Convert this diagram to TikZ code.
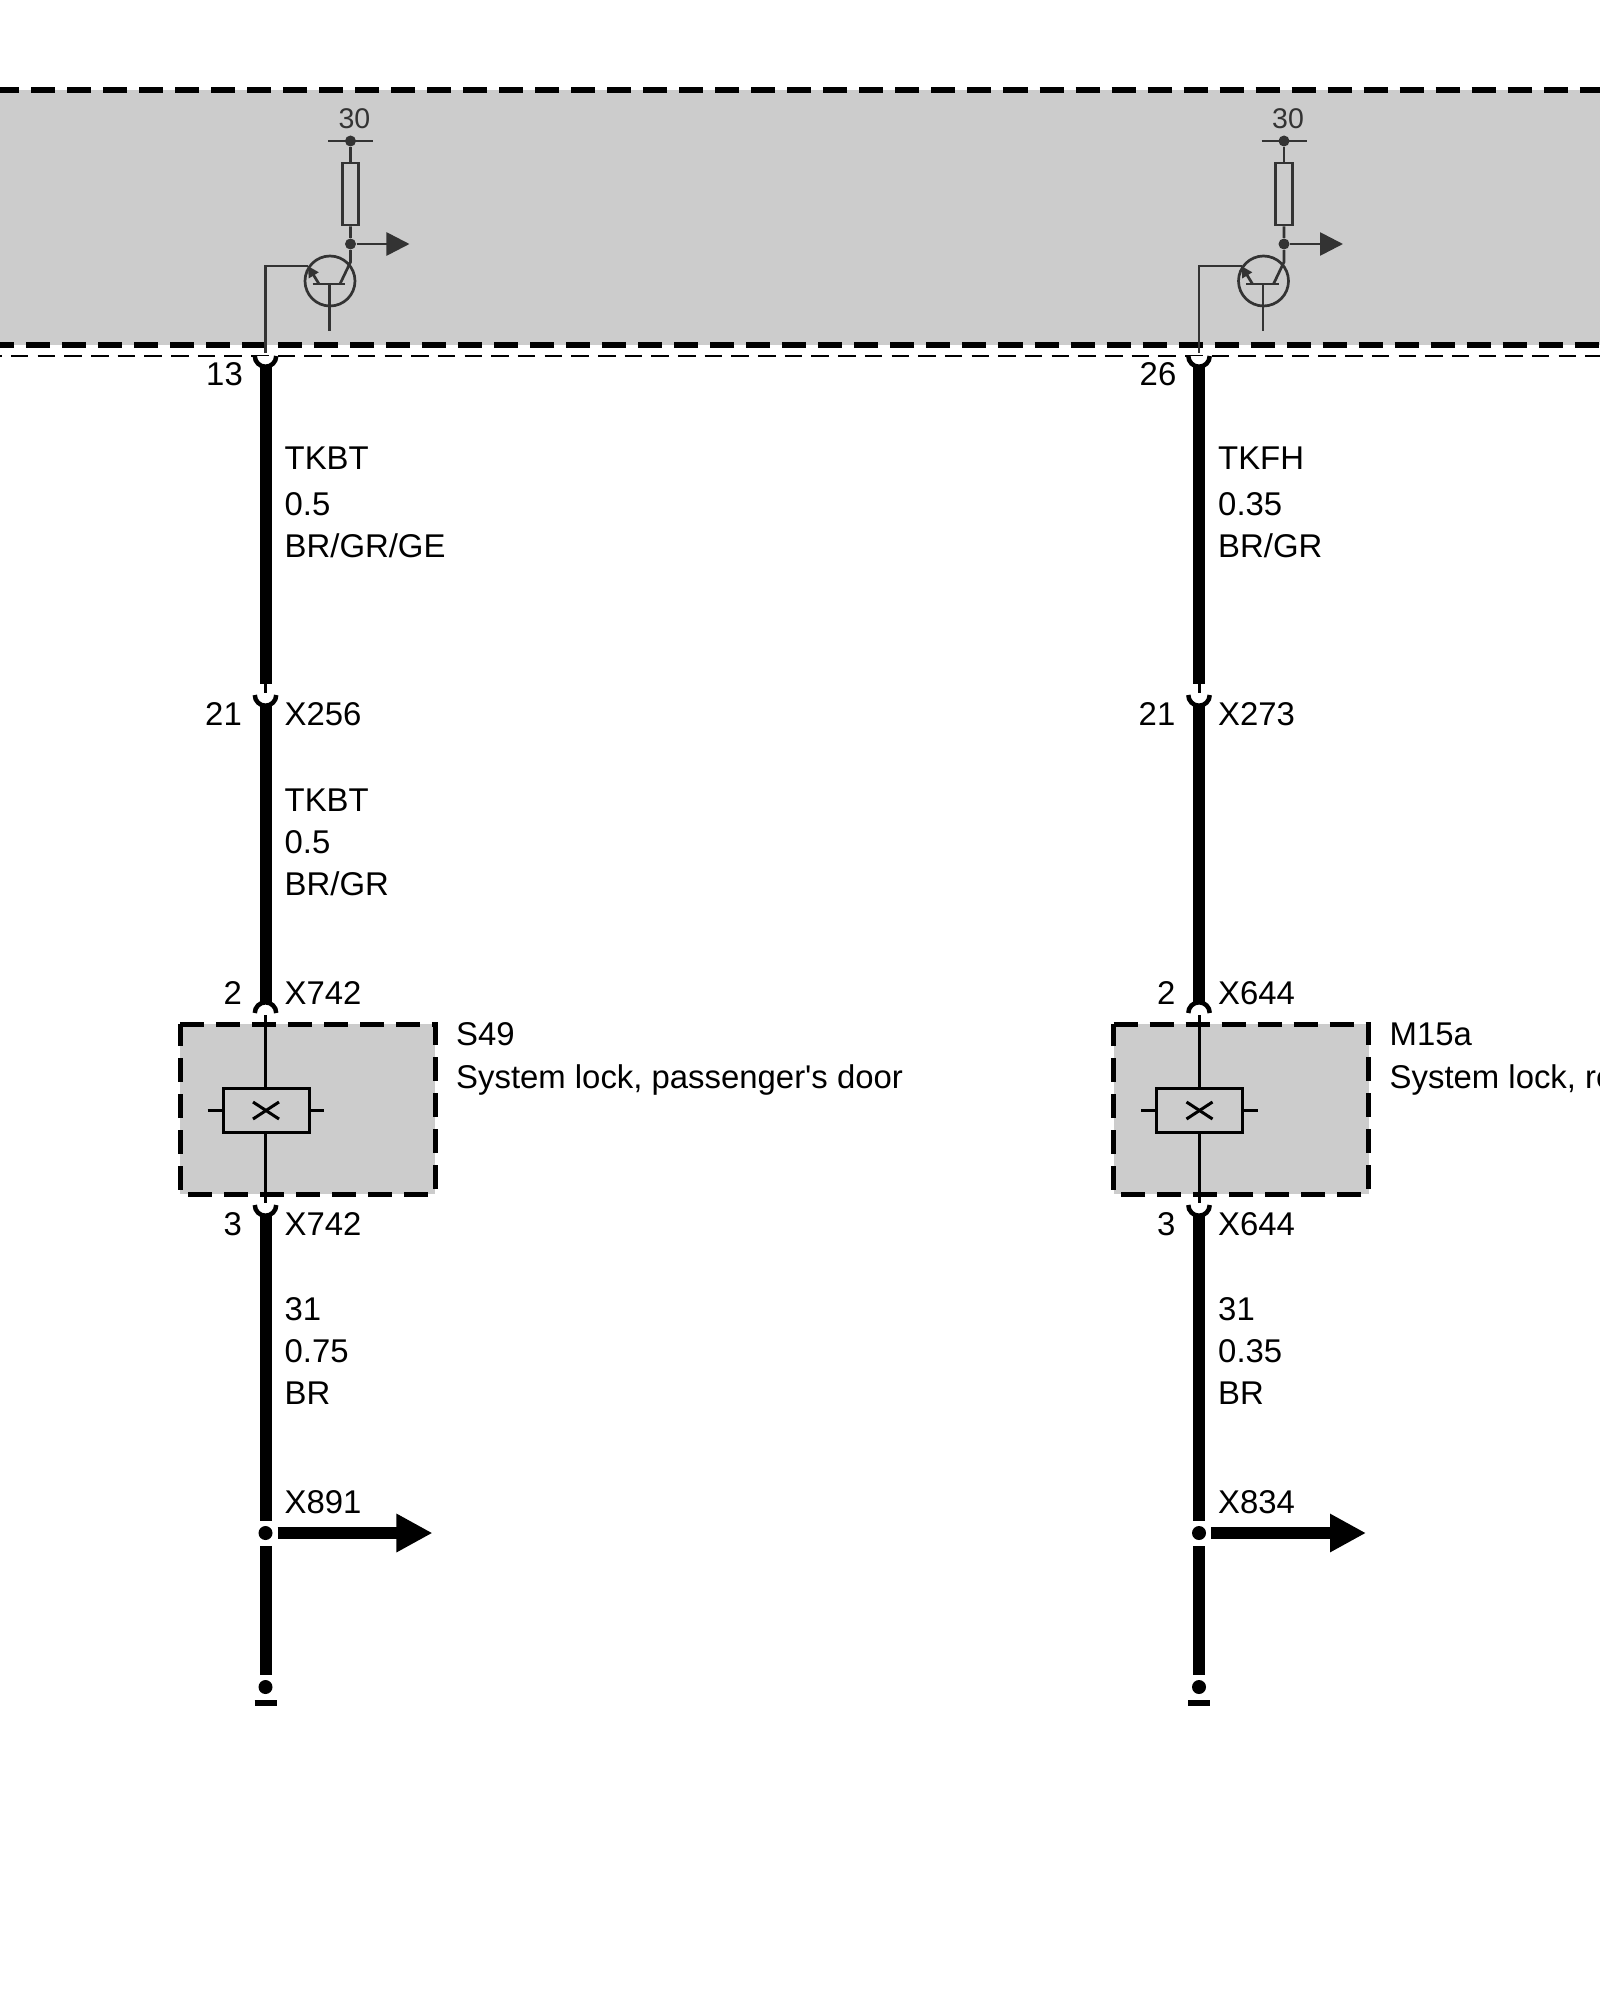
\documentclass[tikz,border=0pt]{standalone}
\usepackage{fontspec}
\setmainfont{Liberation Sans}[Ligatures=TeXOff]
\usetikzlibrary{arrows.meta}

\definecolor{boxgrey}{HTML}{CCCCCC}
\definecolor{ecudark}{HTML}{333333}

\tikzset{
  wire/.style={line width=12*0.2845pt},
  thinwire/.style={line width=3*0.2845pt},
  eculine/.style={line width=2.7*0.2845pt, color=ecudark},
  heavydash/.style={line width=5.5*0.2845pt, dash pattern=on 24*0.2845pt off 12*0.2845pt},
  lightdash/.style={line width=2.8*0.2845pt, dash pattern=on 17.5*0.2845pt off 9.17*0.2845pt},
  cupline/.style={line width=4.5*0.2845pt, fill=white},
  lab/.style={inner sep=0pt, anchor=base west, font=\fontsize{9.35}{11}\selectfont},
  pinlab/.style={inner sep=0pt, anchor=base east, font=\fontsize{9.35}{11}\selectfont},
  dot/.style={circle, fill=black, inner sep=0pt, minimum size=14*0.01cm},
  ecudot/.style={circle, fill=ecudark, inner sep=0pt, minimum size=11*0.01cm},
}

% socket opening downwards / upwards
\newcommand{\cupdown}[1]{\draw[cupline] ([xshift=-0.107cm]#1) arc[start angle=180, end angle=360, radius=0.107cm];}
\newcommand{\cupup}[1]{\draw[cupline] ([xshift=-0.107cm]#1) arc[start angle=180, end angle=0, radius=0.107cm];}

\begin{document}
\begin{tikzpicture}[x=0.01cm, y=-0.01cm]
\useasboundingbox (0,0) rectangle (1600,2000);
\clip (0,0) rectangle (1600,2000);

% control unit band
\fill[boxgrey] (0,90) rectangle (1600,345);
\draw[heavydash] (-5,90) -- (1600,90);
\draw[heavydash] (-10,345) -- (1600,345);
\draw[lightdash] (-15.7,356) -- (1600,356);

\foreach \col/\xw/\pa/\nma/\nmb/\sza/\cola/\szb/\colb/\sock/\plug/\sz/\gnd/\comp/\compname in {
    L/265.5/13/TKBT/TKBT/0.5/BR\slash GR\slash GE/0.5/BR\slash GR/X256/X742/0.75/X891/S49/{System lock, passenger's door},
    R/1199/26/TKFH//0.35/BR\slash GR///X273/X644/0.35/X834/M15a/{System lock, re}}{
  \begin{scope}[shift={(\xw,0)}]
    % driver stage
    \node[inner sep=0pt, anchor=base, font=\fontsize{8.1}{9}\selectfont, text=ecudark] (plus\col) at (89,129) {30};
    \node[ecudot] (feed\col) at (85,141) {};
    \coordinate (feedl\col) at (62.5,141);
    \coordinate (feedr\col) at (107.5,141);
    \node[draw=ecudark, line width=2.7*0.2845pt, inner sep=0pt, minimum width=16.5*0.01cm, minimum height=62*0.01cm] (res\col) at (85,194) {};
    \node[ecudot] (out\col) at (85,244) {};
    \coordinate (outtip\col) at (144,244);
    \node[circle, draw=ecudark, line width=2.7*0.2845pt, inner sep=0pt, minimum size=50*0.01cm] (tr\col) at (64.5,281) {};
    \coordinate (bl\col) at (47,284);
    \coordinate (br\col) at (79.5,284);
    \coordinate (bm\col) at (64,284);
    \coordinate (bend\col) at (85,262);
    \coordinate (coll\col) at (74.5,284);
    \coordinate (emit\col) at (53.5,284);
    \coordinate (emtip\col) at (42.5,266);
    \coordinate (base\col) at (64,331);
    \coordinate (turn\col) at (0,266);
    \coordinate (pin\col) at (0,353);
    \draw[eculine] (feedl\col) -- (feedr\col);
    \draw[eculine] (feed\col) -- (res\col);
    \draw[eculine] (res\col) -- (out\col) -- (bend\col) -- (coll\col);
    \draw[eculine, -{Triangle[length=23*0.2845pt, width=23*0.2845pt]}] (out\col) -- (outtip\col);
    \draw[eculine] (bl\col) -- (br\col);
    \draw[eculine] (bm\col) -- (base\col);
    \draw[eculine, -{Triangle[length=11*0.2845pt, width=11*0.2845pt]}] (emit\col) -- (emtip\col);
    \draw[eculine] (pin\col) -- (turn\col) -- (emtip\col);

    % wires
    \coordinate (pa\col) at (0,356);
    \coordinate (w1\col) at (0,684);
    \coordinate (w1t\col) at (0,693);
    \coordinate (pb\col) at (0,695);
    \coordinate (w2\col) at (0,1013);
    \coordinate (w3\col) at (0,1205);
    \node[dot] (split\col) at (0,1533) {};
    \coordinate (w4\col) at (0,1521);
    \coordinate (w5\col) at (0,1546);
    \coordinate (w6\col) at (0,1675);
    \coordinate (w7\col) at (12,1533);
    \coordinate (w8\col) at (167,1533);
    \node[dot] (end\col) at (0,1687) {};
    \coordinate (g1\col) at (-11,1703);
    \coordinate (g2\col) at (11,1703);
    \draw[wire] (pa\col) -- (w1\col);
    \draw[thinwire] (w1\col) -- (w1t\col);
    \draw[wire] (pb\col) -- (w2\col);
    \draw[wire] (w3\col) -- (w4\col);
    \draw[wire] (w5\col) -- (w6\col);
    \draw[wire, -{Triangle[length=36*0.2845pt, width=36*0.2845pt]}] (w7\col) -- (w8\col);
    \draw[line width=6*0.2845pt] (g1\col) -- (g2\col);
    \cupdown{pa\col}
    \cupdown{pb\col}
    \cupup{w2\col}
    \cupdown{w3\col}

    % component
    \coordinate (c1\col) at (-85.5,1024);
    \coordinate (c2\col) at (169.5,1024);
    \coordinate (c3\col) at (169.5,1194);
    \coordinate (c4\col) at (-85.5,1194);
    \fill[boxgrey] (c1\col) rectangle (c3\col);
    \draw[heavydash, line width=5*0.2845pt] (c1\col) -- (c2\col) -- (c3\col) -- (c4\col) -- cycle;
    \node[draw, line width=3*0.2845pt, inner sep=0pt, minimum width=86*0.01cm, minimum height=44*0.01cm] (lock\col) at (0.5,1110) {};
    \coordinate (in\col) at (0,1015);
    \coordinate (ou\col) at (0,1203);
    \coordinate (sl\col) at (-58,1110);
    \coordinate (sr\col) at (58.5,1110);
    \coordinate (xa\col) at (-12.5,1102);
    \coordinate (xb\col) at (13.5,1119);
    \coordinate (xc\col) at (-12.5,1119);
    \coordinate (xd\col) at (13.5,1102);
    \draw[thinwire] (in\col) -- (lock\col.north -| in\col);
    \draw[thinwire] (lock\col.south -| ou\col) -- (ou\col);
    \draw[thinwire] (sl\col) -- (lock\col);
    \draw[thinwire] (lock\col) -- (sr\col);
    \draw[thinwire] (xa\col) -- (xb\col);
    \draw[thinwire] (xc\col) -- (xd\col);

    % labels
    \node[pinlab] (n1\col) at (-22,385) {\pa};
    \node[lab] (n2\col) at (18.5,469) {\nma};
    \node[lab] (n3\col) at (18.5,515) {\sza};
    \node[lab] (n4\col) at (18.5,557) {\cola};
    \node[pinlab] (n5\col) at (-23,725) {21};
    \node[lab] (n6\col) at (18.5,725) {\sock};
    \node[lab] (n7\col) at (18.5,811) {\nmb};
    \node[lab] (n8\col) at (18.5,853) {\szb};
    \node[lab] (n9\col) at (18.5,895) {\colb};
    \node[pinlab] (n10\col) at (-23,1004) {2};
    \node[lab] (n11\col) at (18.5,1004) {\plug};
    \node[lab] (n12\col) at (190,1045) {\comp};
    \node[lab] (n13\col) at (190,1088) {\compname};
    \node[pinlab] (n14\col) at (-23,1235) {3};
    \node[lab] (n15\col) at (18.5,1235) {\plug};
    \node[lab] (n16\col) at (18.5,1320) {31};
    \node[lab] (n17\col) at (18.5,1362) {\sz};
    \node[lab] (n18\col) at (18.5,1404) {BR};
    \node[lab] (n19\col) at (18.5,1513) {\gnd};
  \end{scope}
}
\end{tikzpicture}
\end{document}
